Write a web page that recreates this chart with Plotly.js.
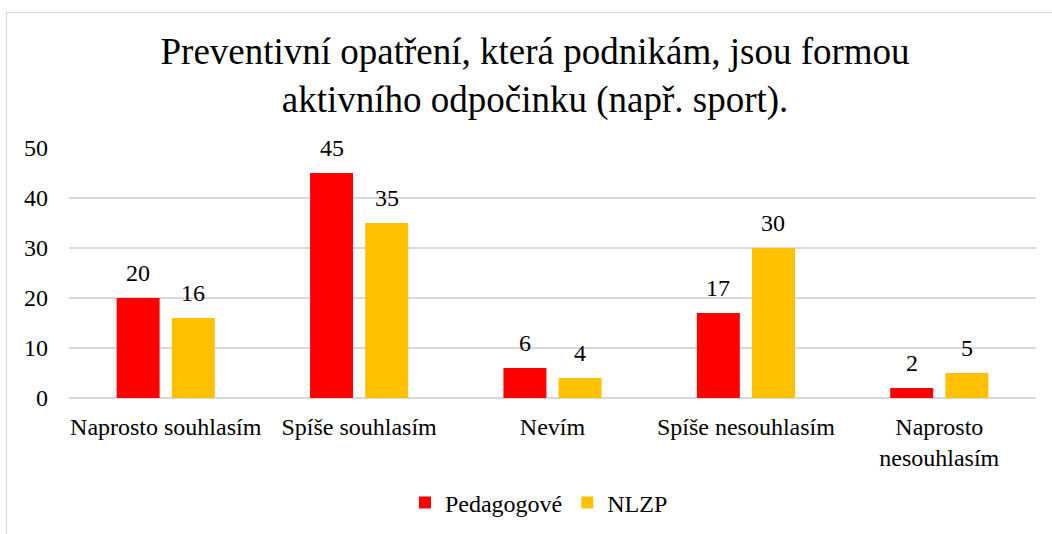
<!DOCTYPE html>
<html>
<head>
<meta charset="utf-8">
<script src="https://cdn.plot.ly/plotly-3.0.1.min.js"></script>
<style>
  html, body { margin: 0; padding: 0; background: #fff; overflow: hidden; }
  #chart { width: 1052px; height: 534px; position: absolute; left: 0; top: 0; }
  #frame { position: absolute; left: 6px; top: 12px; width: 1100px; height: 600px;
           border: 1.5px solid #d9d9d9; pointer-events: none; }
  text { font-family: "Liberation Serif", "Times New Roman", serif !important; }
</style>
</head>
<body>
<div id="chart"></div>
<div id="frame"></div>
<script>
const categories = ["Naprosto souhlasím", "Spíše souhlasím", "Nevím", "Spíše nesouhlasím", "Naprosto<br>nesouhlasím"];
const pedagogove = [20, 45, 6, 17, 2];
const nlzp = [16, 35, 4, 30, 5];
const seriesNames = ["Pedagogové", "NLZP"];
const titleText = "Preventivní opatření, která podnikám, jsou formou<br>aktivního odpočinku (např. sport).";

const serif = "Liberation Serif, serif";
const labelFont = { family: serif, size: 24, color: "#000" };

const traces = [
  { type: "bar", name: seriesNames[0], x: categories, y: pedagogove,
    marker: { color: "#FF0000" }, hoverinfo: "x+y" },
  { type: "bar", name: seriesNames[1], x: categories, y: nlzp,
    marker: { color: "#FFC000" }, hoverinfo: "x+y" }
];

// value labels placed above each bar, anchored on the data values
const annotations = [];
[pedagogove, nlzp].forEach(function (vals, s) {
  vals.forEach(function (v, i) {
    annotations.push({
      x: categories[i], y: v, xref: "x", yref: "y",
      text: String(v), showarrow: false, font: labelFont,
      xanchor: "center", yanchor: "middle",
      xshift: s === 0 ? -27.5 : 27.5, yshift: 25
    });
  });
});

const layout = {
  width: 1052, height: 534,
  margin: { l: 69, r: 16, t: 148, b: 136 },
  paper_bgcolor: "#fff", plot_bgcolor: "#fff",
  font: { family: serif, size: 24, color: "#000" },
  title: { text: titleText, font: { family: serif, size: 37, color: "#000" },
           x: 0.5086, xanchor: "center", y: 0.881, yanchor: "middle", yref: "container" },
  barmode: "group", bargap: 0.43, bargroupgap: 0.22,
  xaxis: { type: "category", showgrid: false, showline: false, ticks: "", ticklabelstandoff: 12,
           tickfont: labelFont },
  yaxis: { range: [0, 50], dtick: 10, showgrid: true, gridcolor: "#d9d9d9", gridwidth: 1.5,
           zeroline: true, zerolinecolor: "#d9d9d9", zerolinewidth: 1.5, showline: false,
           ticks: "", ticklabelstandoff: 20, tickfont: labelFont },
  annotations: annotations,
  showlegend: true,
  legend: { orientation: "h", x: 0.486, xanchor: "center", y: 31/534, yref: "container", yanchor: "middle",
            font: labelFont, itemwidth: 30, traceorder: "normal" }
};

Plotly.newPlot("chart", traces, layout, { displayModeBar: false });
</script>
</body>
</html>
